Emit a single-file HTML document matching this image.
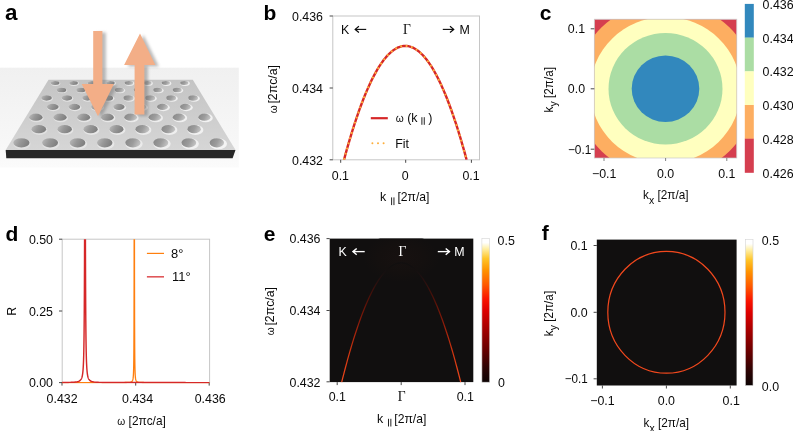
<!DOCTYPE html>
<html><head><meta charset="utf-8"><title>fig</title>
<style>
html,body{margin:0;padding:0;background:#fff;}
body{width:793px;height:431px;overflow:hidden;}
svg{display:block;will-change:transform;}
text{font-family:"Liberation Sans",sans-serif;font-size:12.4px;fill:#0a0a0a;}
.lab{font-weight:bold;font-size:21px;fill:#000;}
.ser{font-family:"Liberation Serif",serif;font-size:13.6px;}
.w{fill:#fff;}
.sub{font-size:11px;}
.om{font-size:10.2px;}
</style></head><body>
<svg width="793" height="431" viewBox="0 0 793 431">
<defs>
<linearGradient id="hot" x1="0" y1="1" x2="0" y2="0">
<stop offset="0" stop-color="#0d0303"/>
<stop offset="0.1" stop-color="#2c0404"/>
<stop offset="0.22" stop-color="#640000"/>
<stop offset="0.38" stop-color="#a80000"/>
<stop offset="0.5" stop-color="#de0000"/>
<stop offset="0.58" stop-color="#fa1400"/>
<stop offset="0.68" stop-color="#ff5a00"/>
<stop offset="0.78" stop-color="#ff9400"/>
<stop offset="0.86" stop-color="#ffc528"/>
<stop offset="0.93" stop-color="#fff0a8"/>
<stop offset="0.97" stop-color="#ffffff"/>
<stop offset="1" stop-color="#ffffff"/>
</linearGradient>
<linearGradient id="slab" x1="0" y1="0" x2="0" y2="1">
<stop offset="0" stop-color="#c4c4c4"/><stop offset="1" stop-color="#d6d6d6"/>
</linearGradient>
<linearGradient id="abg" x1="0" y1="0" x2="0" y2="1">
<stop offset="0" stop-color="#f0f0f0"/><stop offset="0.75" stop-color="#f7f7f7"/><stop offset="1" stop-color="#fbfbfb"/>
</linearGradient>
<linearGradient id="holeL" x1="0" y1="0" x2="1" y2="0.3">
<stop offset="0" stop-color="#bcbcbc"/><stop offset="0.5" stop-color="#989898"/><stop offset="1" stop-color="#808080"/>
</linearGradient>
<linearGradient id="holeR" x1="0" y1="0" x2="1" y2="0.3">
<stop offset="0" stop-color="#858585"/><stop offset="0.6" stop-color="#9c9c9c"/><stop offset="1" stop-color="#bebebe"/>
</linearGradient>
<filter id="sh" x="-30%" y="-10%" width="170%" height="125%"><feGaussianBlur stdDeviation="1.6"/></filter>
<filter id="bl" x="-30%" y="-30%" width="160%" height="160%"><feGaussianBlur stdDeviation="4"/></filter>
<linearGradient id="ecurve" gradientUnits="userSpaceOnUse" x1="0" y1="382" x2="0" y2="266">
<stop offset="0" stop-color="#f0481c"/><stop offset="0.25" stop-color="#d03510"/><stop offset="0.5" stop-color="#8e1c0a"/><stop offset="0.7" stop-color="#541108"/><stop offset="0.85" stop-color="#2c100e"/><stop offset="0.93" stop-color="#181010"/><stop offset="1" stop-color="#110f0f"/>
</linearGradient>
<radialGradient id="glow" cx="0.5" cy="0.5" r="0.5">
<stop offset="0" stop-color="#171110"/><stop offset="0.6" stop-color="#14100f"/><stop offset="1" stop-color="#110f0f"/>
</radialGradient>
</defs>

<g id="pa">
<text x="4.90" y="20.00" class="lab" style="font-size:22.4px">a</text>
<rect x="0" y="67.7" width="238.8" height="99.8" fill="url(#abg)"/>
<polygon points="48.5,79.8 192.8,79.8 235.5,149.9 5.7,150" fill="url(#slab)"/>
<polygon points="5.7,150 235.5,149.9 232.6,158.3 6.3,158.2" fill="#262626"/>
<clipPath id="ca"><polygon points="48.5,79.8 192.8,79.8 235.5,149.9 5.7,150"/></clipPath>
<g clip-path="url(#ca)">
<ellipse cx="55.5" cy="83.5" rx="4.8" ry="2.4" fill="#e3e3e3"/>
<ellipse cx="55.08" cy="83.09" rx="4.41" ry="1.99" fill="url(#holeL)"/>
<ellipse cx="74.0" cy="83.5" rx="4.8" ry="2.4" fill="#e5e5e5"/>
<ellipse cx="73.54" cy="83.09" rx="4.37" ry="1.99" fill="url(#holeL)"/>
<ellipse cx="92.5" cy="83.5" rx="4.8" ry="2.4" fill="#e7e7e7"/>
<ellipse cx="91.99" cy="83.09" rx="4.32" ry="1.99" fill="url(#holeL)"/>
<ellipse cx="111.0" cy="83.5" rx="4.8" ry="2.4" fill="#e9e9e9"/>
<ellipse cx="110.44" cy="83.09" rx="4.27" ry="1.99" fill="url(#holeL)"/>
<ellipse cx="129.5" cy="83.5" rx="4.8" ry="2.4" fill="#eaeaea"/>
<ellipse cx="128.90" cy="83.09" rx="4.23" ry="1.99" fill="url(#holeR)"/>
<ellipse cx="148.0" cy="83.5" rx="4.8" ry="2.4" fill="#ececec"/>
<ellipse cx="147.35" cy="83.09" rx="4.18" ry="1.99" fill="url(#holeR)"/>
<ellipse cx="166.5" cy="83.5" rx="4.8" ry="2.4" fill="#eeeeee"/>
<ellipse cx="165.80" cy="83.09" rx="4.13" ry="1.99" fill="url(#holeR)"/>
<ellipse cx="185.0" cy="83.5" rx="4.8" ry="2.4" fill="#f0f0f0"/>
<ellipse cx="184.26" cy="83.09" rx="4.09" ry="1.99" fill="url(#holeR)"/>
<ellipse cx="62.0" cy="90.5" rx="5.2" ry="2.8" fill="#e3e3e3"/>
<ellipse cx="61.53" cy="90.03" rx="4.78" ry="2.29" fill="url(#holeL)"/>
<ellipse cx="81.5" cy="90.5" rx="5.2" ry="2.8" fill="#e5e5e5"/>
<ellipse cx="80.98" cy="90.03" rx="4.73" ry="2.29" fill="url(#holeL)"/>
<ellipse cx="101.0" cy="90.5" rx="5.2" ry="2.8" fill="#e8e8e8"/>
<ellipse cx="100.42" cy="90.03" rx="4.67" ry="2.29" fill="url(#holeL)"/>
<ellipse cx="120.0" cy="90.5" rx="5.2" ry="2.8" fill="#eaeaea"/>
<ellipse cx="119.37" cy="90.03" rx="4.62" ry="2.29" fill="url(#holeR)"/>
<ellipse cx="139.0" cy="90.5" rx="5.2" ry="2.8" fill="#ebebeb"/>
<ellipse cx="138.32" cy="90.03" rx="4.57" ry="2.29" fill="url(#holeR)"/>
<ellipse cx="158.5" cy="90.5" rx="5.2" ry="2.8" fill="#eeeeee"/>
<ellipse cx="157.76" cy="90.03" rx="4.51" ry="2.29" fill="url(#holeR)"/>
<ellipse cx="178.0" cy="90.5" rx="5.2" ry="2.8" fill="#f0f0f0"/>
<ellipse cx="177.21" cy="90.03" rx="4.46" ry="2.29" fill="url(#holeR)"/>
<ellipse cx="47.0" cy="98.5" rx="5.8" ry="3.2" fill="#e2e2e2"/>
<ellipse cx="46.53" cy="97.95" rx="5.30" ry="2.69" fill="url(#holeL)"/>
<ellipse cx="67.5" cy="98.5" rx="5.8" ry="3.2" fill="#e4e4e4"/>
<ellipse cx="66.97" cy="97.95" rx="5.24" ry="2.69" fill="url(#holeL)"/>
<ellipse cx="88.0" cy="98.5" rx="5.8" ry="3.2" fill="#e6e6e6"/>
<ellipse cx="87.40" cy="97.95" rx="5.18" ry="2.69" fill="url(#holeL)"/>
<ellipse cx="108.6" cy="98.5" rx="5.8" ry="3.2" fill="#e8e8e8"/>
<ellipse cx="107.94" cy="97.95" rx="5.12" ry="2.69" fill="url(#holeL)"/>
<ellipse cx="129.2" cy="98.5" rx="5.8" ry="3.2" fill="#eaeaea"/>
<ellipse cx="128.48" cy="97.95" rx="5.05" ry="2.69" fill="url(#holeR)"/>
<ellipse cx="151.0" cy="98.5" rx="5.8" ry="3.2" fill="#ededed"/>
<ellipse cx="150.21" cy="97.95" rx="4.99" ry="2.69" fill="url(#holeR)"/>
<ellipse cx="172.0" cy="98.5" rx="5.8" ry="3.2" fill="#efefef"/>
<ellipse cx="171.15" cy="97.95" rx="4.93" ry="2.69" fill="url(#holeR)"/>
<ellipse cx="194.0" cy="98.5" rx="5.8" ry="3.2" fill="#f1f1f1"/>
<ellipse cx="193.08" cy="97.95" rx="4.86" ry="2.69" fill="url(#holeR)"/>
<ellipse cx="53.3" cy="107.5" rx="6.4" ry="3.7" fill="#e3e3e3"/>
<ellipse cx="52.75" cy="106.87" rx="5.86" ry="3.09" fill="url(#holeL)"/>
<ellipse cx="75.0" cy="107.5" rx="6.4" ry="3.7" fill="#e5e5e5"/>
<ellipse cx="74.38" cy="106.87" rx="5.79" ry="3.09" fill="url(#holeL)"/>
<ellipse cx="97.5" cy="107.5" rx="6.4" ry="3.7" fill="#e7e7e7"/>
<ellipse cx="96.81" cy="106.87" rx="5.71" ry="3.09" fill="url(#holeL)"/>
<ellipse cx="119.7" cy="107.5" rx="6.4" ry="3.7" fill="#e9e9e9"/>
<ellipse cx="118.93" cy="106.87" rx="5.64" ry="3.09" fill="url(#holeL)"/>
<ellipse cx="141.5" cy="107.5" rx="6.4" ry="3.7" fill="#ececec"/>
<ellipse cx="140.66" cy="106.87" rx="5.56" ry="3.09" fill="url(#holeR)"/>
<ellipse cx="163.4" cy="107.5" rx="6.4" ry="3.7" fill="#eeeeee"/>
<ellipse cx="162.49" cy="106.87" rx="5.49" ry="3.09" fill="url(#holeR)"/>
<ellipse cx="186.4" cy="107.5" rx="6.4" ry="3.7" fill="#f0f0f0"/>
<ellipse cx="185.41" cy="106.87" rx="5.41" ry="3.09" fill="url(#holeR)"/>
<ellipse cx="36.4" cy="117.9" rx="7.2" ry="4.3" fill="#e1e1e1"/>
<ellipse cx="35.85" cy="117.17" rx="6.69" ry="3.59" fill="url(#holeL)"/>
<ellipse cx="60.7" cy="117.9" rx="7.2" ry="4.3" fill="#e3e3e3"/>
<ellipse cx="60.05" cy="117.17" rx="6.60" ry="3.59" fill="url(#holeL)"/>
<ellipse cx="84.4" cy="117.9" rx="7.2" ry="4.3" fill="#e6e6e6"/>
<ellipse cx="83.67" cy="117.17" rx="6.51" ry="3.59" fill="url(#holeL)"/>
<ellipse cx="108.2" cy="117.9" rx="7.2" ry="4.3" fill="#e8e8e8"/>
<ellipse cx="107.38" cy="117.17" rx="6.42" ry="3.59" fill="url(#holeL)"/>
<ellipse cx="131.5" cy="117.9" rx="7.2" ry="4.3" fill="#ebebeb"/>
<ellipse cx="130.59" cy="117.17" rx="6.33" ry="3.59" fill="url(#holeR)"/>
<ellipse cx="155.8" cy="117.9" rx="7.2" ry="4.3" fill="#ededed"/>
<ellipse cx="154.80" cy="117.17" rx="6.24" ry="3.59" fill="url(#holeR)"/>
<ellipse cx="180.0" cy="117.9" rx="7.2" ry="4.3" fill="#f0f0f0"/>
<ellipse cx="178.90" cy="117.17" rx="6.15" ry="3.59" fill="url(#holeR)"/>
<ellipse cx="205.6" cy="117.9" rx="7.2" ry="4.3" fill="#f2f2f2"/>
<ellipse cx="204.41" cy="117.17" rx="6.05" ry="3.59" fill="url(#holeR)"/>
<ellipse cx="39.4" cy="130.0" rx="8.0" ry="4.9" fill="#e1e1e1"/>
<ellipse cx="38.78" cy="129.16" rx="7.36" ry="4.08" fill="url(#holeL)"/>
<ellipse cx="65.4" cy="130.0" rx="8.0" ry="4.9" fill="#e4e4e4"/>
<ellipse cx="64.67" cy="129.16" rx="7.25" ry="4.08" fill="url(#holeL)"/>
<ellipse cx="91.4" cy="130.0" rx="8.0" ry="4.9" fill="#e7e7e7"/>
<ellipse cx="90.56" cy="129.16" rx="7.14" ry="4.08" fill="url(#holeL)"/>
<ellipse cx="117.4" cy="130.0" rx="8.0" ry="4.9" fill="#e9e9e9"/>
<ellipse cx="116.45" cy="129.16" rx="7.03" ry="4.08" fill="url(#holeL)"/>
<ellipse cx="143.4" cy="130.0" rx="8.0" ry="4.9" fill="#ececec"/>
<ellipse cx="142.34" cy="129.16" rx="6.92" ry="4.08" fill="url(#holeR)"/>
<ellipse cx="169.4" cy="130.0" rx="8.0" ry="4.9" fill="#efefef"/>
<ellipse cx="168.24" cy="129.16" rx="6.82" ry="4.08" fill="url(#holeR)"/>
<ellipse cx="195.4" cy="130.0" rx="8.0" ry="4.9" fill="#f1f1f1"/>
<ellipse cx="194.13" cy="129.16" rx="6.71" ry="4.08" fill="url(#holeR)"/>
<ellipse cx="22.0" cy="143.8" rx="8.7" ry="5.5" fill="#dfdfdf"/>
<ellipse cx="21.40" cy="142.86" rx="8.11" ry="4.58" fill="url(#holeL)"/>
<ellipse cx="50.8" cy="143.8" rx="8.7" ry="5.5" fill="#e2e2e2"/>
<ellipse cx="50.07" cy="142.86" rx="7.98" ry="4.58" fill="url(#holeL)"/>
<ellipse cx="78.4" cy="143.8" rx="8.7" ry="5.5" fill="#e5e5e5"/>
<ellipse cx="77.54" cy="142.86" rx="7.86" ry="4.58" fill="url(#holeL)"/>
<ellipse cx="105.7" cy="143.8" rx="8.7" ry="5.5" fill="#e8e8e8"/>
<ellipse cx="104.72" cy="142.86" rx="7.73" ry="4.58" fill="url(#holeL)"/>
<ellipse cx="134.0" cy="143.8" rx="8.7" ry="5.5" fill="#ebebeb"/>
<ellipse cx="132.89" cy="142.86" rx="7.61" ry="4.58" fill="url(#holeR)"/>
<ellipse cx="162.0" cy="143.8" rx="8.7" ry="5.5" fill="#eeeeee"/>
<ellipse cx="160.76" cy="142.86" rx="7.48" ry="4.58" fill="url(#holeR)"/>
<ellipse cx="190.2" cy="143.8" rx="8.7" ry="5.5" fill="#f1f1f1"/>
<ellipse cx="188.84" cy="142.86" rx="7.35" ry="4.58" fill="url(#holeR)"/>
<ellipse cx="218.3" cy="143.8" rx="8.7" ry="5.5" fill="#f4f4f4"/>
<ellipse cx="216.81" cy="142.86" rx="7.22" ry="4.58" fill="url(#holeR)"/>
</g>
<g filter="url(#sh)" opacity="0.5" transform="translate(3.5,1.5)"><polygon points="93.2,31 102.4,31 102.4,83.9 113.9,83.9 98,116.3 81.7,83.9 93.2,83.9" fill="#777"/><polygon points="140,33.4 155.4,65.1 144.4,65.1 144.4,114.6 134.6,114.6 134.6,65.1 124.1,65.1" fill="#777"/></g>
<polygon points="93.2,31 102.4,31 102.4,83.9 113.9,83.9 98,116.3 81.7,83.9 93.2,83.9" fill="#f3ae87"/>
<polygon points="140,33.4 155.4,65.1 144.4,65.1 144.4,114.6 134.6,114.6 134.6,65.1 124.1,65.1" fill="#f3ae87"/>
</g>
<g id="pb">
<text x="263.60" y="20.00" class="lab">b</text>
<rect x="332.8" y="16.0" width="146.7" height="143.8" fill="none" stroke="#c6c6c6" stroke-width="1"/>
<line x1="329.6" y1="16.0" x2="332.8" y2="16.0" stroke="#333" stroke-width="0.9"/>
<line x1="329.6" y1="88.0" x2="332.8" y2="88.0" stroke="#333" stroke-width="0.9"/>
<line x1="329.6" y1="159.8" x2="332.8" y2="159.8" stroke="#333" stroke-width="0.9"/>
<line x1="340.7" y1="159.8" x2="340.7" y2="162.8" stroke="#333" stroke-width="0.9"/>
<line x1="405.7" y1="159.8" x2="405.7" y2="162.8" stroke="#333" stroke-width="0.9"/>
<line x1="471.4" y1="159.8" x2="471.4" y2="162.8" stroke="#333" stroke-width="0.9"/>
<text x="323.00" y="20.80" text-anchor="end">0.436</text>
<text x="323.00" y="92.80" text-anchor="end">0.434</text>
<text x="323.00" y="164.60" text-anchor="end">0.432</text>
<text x="340.40" y="180.00" text-anchor="middle">0.1</text>
<text x="405.20" y="180.00" text-anchor="middle">0</text>
<text x="471.10" y="180.00" text-anchor="middle">0.1</text>
<g transform="translate(277.40 113.20) rotate(-90)">
<text x="0.00" y="0.00" class="om">ω</text>
<text x="9.60" y="0.00" textLength="38.60" lengthAdjust="spacingAndGlyphs">[2πc/a]</text>
</g>
<text x="380.10" y="201.40">k</text>
<line x1="391.60" y1="197.40" x2="391.60" y2="205.10" stroke="#0a0a0a" stroke-width="0.9"/>
<line x1="393.95" y1="197.40" x2="393.95" y2="205.10" stroke="#0a0a0a" stroke-width="0.9"/>
<text x="397.40" y="201.40" textLength="32.00" lengthAdjust="spacingAndGlyphs">[2π/a]</text>
<clipPath id="cb"><rect x="332.8" y="16.0" width="146.7" height="143.8"/></clipPath>
<g clip-path="url(#cb)"><polyline points="344.00,159.80 345.53,154.18 347.06,148.69 348.60,143.36 350.13,138.16 351.66,133.10 353.19,128.19 354.73,123.42 356.26,118.80 357.79,114.31 359.32,109.97 360.86,105.77 362.39,101.71 363.92,97.80 365.45,94.02 366.99,90.39 368.52,86.90 370.05,83.56 371.58,80.35 373.12,77.29 374.65,74.38 376.18,71.60 377.71,68.96 379.25,66.47 380.78,64.12 382.31,61.92 383.85,59.85 385.38,57.93 386.91,56.15 388.44,54.51 389.98,53.02 391.51,51.67 393.04,50.46 394.57,49.39 396.11,48.46 397.64,47.68 399.17,47.04 400.70,46.54 402.24,46.18 403.77,45.97 405.30,45.90 406.83,45.97 408.37,46.18 409.90,46.54 411.43,47.04 412.96,47.68 414.50,48.46 416.03,49.39 417.56,50.46 419.09,51.67 420.62,53.02 422.16,54.51 423.69,56.15 425.22,57.93 426.75,59.85 428.29,61.92 429.82,64.12 431.35,66.47 432.88,68.96 434.42,71.60 435.95,74.37 437.48,77.29 439.01,80.35 440.55,83.56 442.08,86.90 443.61,90.39 445.14,94.02 446.68,97.80 448.21,101.71 449.74,105.77 451.27,109.97 452.81,114.31 454.34,118.80 455.87,123.42 457.40,128.19 458.94,133.10 460.47,138.16 462.00,143.36 463.53,148.69 465.07,154.18 466.60,159.80" fill="none" stroke="#d62728" stroke-width="2.4"/>
<polyline points="344.00,159.80 345.53,154.18 347.06,148.69 348.60,143.36 350.13,138.16 351.66,133.10 353.19,128.19 354.73,123.42 356.26,118.80 357.79,114.31 359.32,109.97 360.86,105.77 362.39,101.71 363.92,97.80 365.45,94.02 366.99,90.39 368.52,86.90 370.05,83.56 371.58,80.35 373.12,77.29 374.65,74.38 376.18,71.60 377.71,68.96 379.25,66.47 380.78,64.12 382.31,61.92 383.85,59.85 385.38,57.93 386.91,56.15 388.44,54.51 389.98,53.02 391.51,51.67 393.04,50.46 394.57,49.39 396.11,48.46 397.64,47.68 399.17,47.04 400.70,46.54 402.24,46.18 403.77,45.97 405.30,45.90 406.83,45.97 408.37,46.18 409.90,46.54 411.43,47.04 412.96,47.68 414.50,48.46 416.03,49.39 417.56,50.46 419.09,51.67 420.62,53.02 422.16,54.51 423.69,56.15 425.22,57.93 426.75,59.85 428.29,61.92 429.82,64.12 431.35,66.47 432.88,68.96 434.42,71.60 435.95,74.37 437.48,77.29 439.01,80.35 440.55,83.56 442.08,86.90 443.61,90.39 445.14,94.02 446.68,97.80 448.21,101.71 449.74,105.77 451.27,109.97 452.81,114.31 454.34,118.80 455.87,123.42 457.40,128.19 458.94,133.10 460.47,138.16 462.00,143.36 463.53,148.69 465.07,154.18 466.60,159.80" fill="none" stroke="#fdae3c" stroke-width="2.1" stroke-dasharray="1.8 3.6"/></g>
<text x="341.00" y="33.80">K</text>
<line x1="355.00" y1="29.40" x2="366.20" y2="29.40" stroke="#0a0a0a" stroke-width="1.12"/>
<polyline points="358.90,26.30 355.20,29.40 358.90,32.50" fill="none" stroke="#0a0a0a" stroke-width="1.22" stroke-linejoin="miter"/>
<text x="402.90" y="33.80" class="ser">Γ</text>
<line x1="442.80" y1="29.40" x2="453.90" y2="29.40" stroke="#0a0a0a" stroke-width="1.12"/>
<polyline points="450.00,26.30 453.70,29.40 450.00,32.50" fill="none" stroke="#0a0a0a" stroke-width="1.22" stroke-linejoin="miter"/>
<text x="459.40" y="33.80">M</text>
<line x1="370.8" y1="118.2" x2="387.8" y2="118.2" stroke="#d62728" stroke-width="2.2"/>
<text x="395.70" y="122.00" class="om">ω</text>
<text x="407.20" y="122.00">(k</text>
<line x1="421.90" y1="117.20" x2="421.90" y2="124.80" stroke="#0a0a0a" stroke-width="0.9"/>
<line x1="424.25" y1="117.20" x2="424.25" y2="124.80" stroke="#0a0a0a" stroke-width="0.9"/>
<text x="428.30" y="122.00">)</text>
<line x1="372.4" y1="143.3" x2="385" y2="143.3" stroke="#fdae3c" stroke-width="2" stroke-dasharray="0 5.6" stroke-linecap="round"/>
<text x="395.30" y="148.40">Fit</text>
</g>
<g id="pc">
<text x="539.80" y="19.80" class="lab">c</text>
<clipPath id="cc"><rect x="594.3" y="19.2" width="142.5" height="138.8"/></clipPath>
<g clip-path="url(#cc)">
<rect x="594.3" y="19.2" width="142.5" height="138.8" fill="#d53e4f"/>
<ellipse cx="665.50" cy="89.25" rx="90.30" ry="87.60" fill="#fdae61"/>
<ellipse cx="665.50" cy="90.15" rx="75.20" ry="73.20" fill="#ffffbf"/>
<ellipse cx="665.50" cy="88.75" rx="57.00" ry="55.85" fill="#abdda4"/>
<ellipse cx="665.50" cy="88.75" rx="33.80" ry="33.30" fill="#3288bd"/>
</g>
<rect x="594.3" y="19.2" width="142.5" height="138.8" fill="none" stroke="#c8c8c8" stroke-width="0.7"/>
<line x1="590.7" y1="28.8" x2="594.3" y2="28.8" stroke="#333" stroke-width="0.9"/>
<line x1="590.7" y1="88.8" x2="594.3" y2="88.8" stroke="#333" stroke-width="0.9"/>
<line x1="590.7" y1="149.2" x2="594.3" y2="149.2" stroke="#333" stroke-width="0.9"/>
<line x1="604.0" y1="158.0" x2="604.0" y2="161.0" stroke="#777" stroke-width="0.9"/>
<line x1="665.6" y1="158.0" x2="665.6" y2="161.0" stroke="#777" stroke-width="0.9"/>
<line x1="726.8" y1="158.0" x2="726.8" y2="161.0" stroke="#777" stroke-width="0.9"/>
<text x="585.10" y="33.30" text-anchor="end">0.1</text>
<text x="585.10" y="93.30" text-anchor="end">0.0</text>
<text x="591.30" y="153.90" text-anchor="end" textLength="23.40" lengthAdjust="spacingAndGlyphs">−0.1</text>
<text x="604.20" y="177.50" text-anchor="middle">−0.1</text>
<text x="665.60" y="177.50" text-anchor="middle">0.0</text>
<text x="726.80" y="177.50" text-anchor="middle">0.1</text>
<text x="552.60" y="112.40" textLength="45.40" lengthAdjust="spacingAndGlyphs" transform="rotate(-90 552.60 112.40)">k<tspan class="sub" dy="4.6">y</tspan><tspan dy="-4.6"> [2π/a]</tspan></text>
<text x="643.10" y="198.90" textLength="45.40" lengthAdjust="spacingAndGlyphs">k<tspan class="sub" dy="4.6">x</tspan><tspan dy="-4.6"> [2π/a]</tspan></text>
<rect x="744.8" y="3.9" width="9.0" height="33.9" fill="#3288bd"/>
<rect x="744.8" y="37.6" width="9.0" height="33.9" fill="#abdda4"/>
<rect x="744.8" y="71.3" width="9.0" height="33.9" fill="#ffffbf"/>
<rect x="744.8" y="105.0" width="9.0" height="33.9" fill="#fdae61"/>
<rect x="744.8" y="138.7" width="9.0" height="34.1" fill="#d53e4f"/>
<text x="762.60" y="9.00">0.436</text>
<text x="762.60" y="42.70">0.434</text>
<text x="762.60" y="76.40">0.432</text>
<text x="762.60" y="110.10">0.430</text>
<text x="762.60" y="143.80">0.428</text>
<text x="762.60" y="177.70">0.426</text>
</g>
<g id="pd">
<text x="5.60" y="241.30" class="lab">d</text>
<rect x="62.2" y="239.2" width="147.4" height="143.4" fill="none" stroke="#c6c6c6" stroke-width="1"/>
<line x1="59.0" y1="239.2" x2="62.2" y2="239.2" stroke="#333" stroke-width="0.9"/>
<line x1="59.0" y1="311.0" x2="62.2" y2="311.0" stroke="#333" stroke-width="0.9"/>
<line x1="59.0" y1="382.6" x2="62.2" y2="382.6" stroke="#333" stroke-width="0.9"/>
<line x1="62.0" y1="382.6" x2="62.0" y2="385.6" stroke="#333" stroke-width="0.9"/>
<line x1="135.7" y1="382.6" x2="135.7" y2="385.6" stroke="#333" stroke-width="0.9"/>
<line x1="209.2" y1="382.6" x2="209.2" y2="385.6" stroke="#333" stroke-width="0.9"/>
<text x="53.00" y="243.90" text-anchor="end">0.50</text>
<text x="53.00" y="315.70" text-anchor="end">0.25</text>
<text x="53.00" y="387.30" text-anchor="end">0.00</text>
<text x="62.10" y="402.70" text-anchor="middle">0.432</text>
<text x="137.60" y="402.70" text-anchor="middle">0.434</text>
<text x="210.20" y="402.70" text-anchor="middle">0.436</text>
<text x="16.10" y="311.30" text-anchor="middle" transform="rotate(-90 16.10 311.30)">R</text>
<text x="117.30" y="424.80" class="om">ω</text>
<text x="128.60" y="424.80" textLength="37.20" lengthAdjust="spacingAndGlyphs">[2πc/a]</text>
<clipPath id="cd"><rect x="61.2" y="239.2" width="149.4" height="144.4"/></clipPath>
<g clip-path="url(#cd)">
<polyline points="62.20,382.60 63.20,382.60 64.20,382.60 65.20,382.60 66.20,382.60 67.20,382.60 68.20,382.60 69.20,382.60 70.20,382.60 71.20,382.60 72.20,382.60 73.20,382.60 74.20,382.60 75.20,382.60 76.20,382.60 77.20,382.60 78.20,382.60 79.20,382.60 80.20,382.60 81.20,382.60 82.20,382.60 83.20,382.60 84.20,382.60 85.20,382.60 86.20,382.60 87.20,382.60 88.20,382.60 89.20,382.60 90.20,382.60 91.20,382.60 92.20,382.60 93.20,382.60 94.20,382.60 95.20,382.60 96.20,382.60 97.20,382.60 98.20,382.60 99.20,382.59 100.20,382.59 101.20,382.59 102.20,382.59 103.20,382.59 104.20,382.59 105.20,382.59 106.20,382.59 107.20,382.59 108.20,382.59 109.20,382.59 110.20,382.59 111.20,382.59 112.20,382.59 113.20,382.59 114.20,382.58 115.20,382.58 116.20,382.58 117.20,382.58 118.20,382.58 119.20,382.57 120.20,382.57 121.20,382.56 122.20,382.56 123.20,382.55 124.20,382.54 125.20,382.52 126.20,382.50 127.20,382.47 128.20,382.43 129.20,382.35 130.20,382.22 131.20,381.93 131.30,381.88 131.40,381.83 131.50,381.78 131.60,381.72 131.70,381.65 131.80,381.57 131.90,381.48 132.00,381.39 132.10,381.27 132.20,381.14 132.30,381.00 132.40,380.82 132.50,380.62 132.60,380.38 132.70,380.10 132.80,379.76 132.90,379.35 133.00,378.83 133.10,378.19 133.20,377.36 133.30,376.29 133.40,374.85 133.50,372.86 133.60,370.01 133.70,365.73 133.80,358.92 133.90,347.24 134.00,325.24 134.10,279.35 134.20,184.05 134.30,95.80 134.40,184.05 134.50,279.35 134.60,325.24 134.70,347.24 134.80,358.92 134.90,365.73 135.00,370.01 135.10,372.86 135.20,374.85 135.30,376.29 135.40,377.36 135.50,378.19 135.60,378.83 135.70,379.35 135.80,379.76 135.90,380.10 136.00,380.38 136.10,380.62 136.20,380.82 136.30,381.00 136.40,381.14 136.50,381.27 136.60,381.39 136.70,381.48 136.80,381.57 136.90,381.65 137.00,381.72 137.10,381.78 137.20,381.83 137.30,381.88 137.40,381.93 137.50,381.97 137.60,382.01 137.70,382.04 137.80,382.07 137.90,382.10 138.00,382.13 138.10,382.15 138.20,382.18 138.30,382.20 138.40,382.22 139.40,382.35 140.40,382.43 141.40,382.47 142.40,382.50 143.40,382.52 144.40,382.54 145.40,382.55 146.40,382.56 147.40,382.56 148.40,382.57 149.40,382.57 150.40,382.58 151.40,382.58 152.40,382.58 153.40,382.58 154.40,382.58 155.40,382.59 156.40,382.59 157.40,382.59 158.40,382.59 159.40,382.59 160.40,382.59 161.40,382.59 162.40,382.59 163.40,382.59 164.40,382.59 165.40,382.59 166.40,382.59 167.40,382.59 168.40,382.59 169.40,382.59 170.40,382.60 171.40,382.60 172.40,382.60 173.40,382.60 174.40,382.60 175.40,382.60 176.40,382.60 177.40,382.60 178.40,382.60 179.40,382.60 180.40,382.60 181.40,382.60 182.40,382.60 183.40,382.60 184.40,382.60 185.40,382.60 186.40,382.60 187.40,382.60 188.40,382.60 189.40,382.60 190.40,382.60 191.40,382.60 192.40,382.60 193.40,382.60 194.40,382.60 195.40,382.60 196.40,382.60 197.40,382.60 198.40,382.60 199.40,382.60 200.40,382.60 201.40,382.60 202.40,382.60 203.40,382.60 204.40,382.60 205.40,382.60 206.40,382.60 207.40,382.60 208.40,382.60 209.40,382.60" fill="none" stroke="#ff7f0e" stroke-width="1.3" stroke-linejoin="round"/>
<polyline points="62.20,382.50 63.20,382.49 64.20,382.48 65.20,382.47 66.20,382.46 67.20,382.44 68.20,382.42 69.20,382.40 70.20,382.37 71.20,382.33 72.20,382.29 73.20,382.24 74.20,382.17 75.20,382.07 76.20,381.95 77.20,381.77 78.20,381.51 79.20,381.10 80.20,380.42 81.20,379.14 81.30,378.95 81.40,378.75 81.50,378.53 81.60,378.29 81.70,378.03 81.80,377.74 81.90,377.43 82.00,377.09 82.10,376.71 82.20,376.29 82.30,375.82 82.40,375.31 82.50,374.73 82.60,374.08 82.70,373.35 82.80,372.51 82.90,371.57 83.00,370.49 83.10,369.24 83.20,367.79 83.30,366.10 83.40,364.11 83.50,361.75 83.60,358.92 83.70,355.49 83.80,351.30 83.90,346.11 84.00,339.59 84.10,331.31 84.20,320.63 84.30,306.68 84.40,288.28 84.50,263.95 84.60,232.21 84.70,192.69 84.80,148.81 84.90,111.19 85.00,95.80 85.10,111.19 85.20,148.81 85.30,192.69 85.40,232.21 85.50,263.95 85.60,288.28 85.70,306.68 85.80,320.63 85.90,331.31 86.00,339.59 86.10,346.11 86.20,351.30 86.30,355.49 86.40,358.92 86.50,361.75 86.60,364.11 86.70,366.10 86.80,367.79 86.90,369.24 87.00,370.49 87.10,371.57 87.20,372.51 87.30,373.35 87.40,374.08 87.50,374.73 87.60,375.31 87.70,375.82 87.80,376.29 87.90,376.71 88.00,377.09 88.10,377.43 88.20,377.74 88.30,378.03 88.40,378.29 88.50,378.53 88.60,378.75 88.70,378.95 88.80,379.14 88.90,379.31 89.00,379.47 89.10,379.62 90.10,380.67 91.10,381.25 92.10,381.60 93.10,381.83 94.10,381.99 95.10,382.10 96.10,382.19 97.10,382.25 98.10,382.31 99.10,382.35 100.10,382.38 101.10,382.40 102.10,382.43 103.10,382.45 104.10,382.46 105.10,382.47 106.10,382.49 107.10,382.50 108.10,382.51 109.10,382.51 110.10,382.52 111.10,382.53 112.10,382.53 113.10,382.54 114.10,382.54 115.10,382.54 116.10,382.55 117.10,382.55 118.10,382.55 119.10,382.56 120.10,382.56 121.10,382.56 122.10,382.56 123.10,382.57 124.10,382.57 125.10,382.57 126.10,382.57 127.10,382.57 128.10,382.57 129.10,382.57 130.10,382.58 131.10,382.58 132.10,382.58 133.10,382.58 134.10,382.58 135.10,382.58 136.10,382.58 137.10,382.58 138.10,382.58 139.10,382.58 140.10,382.58 141.10,382.58 142.10,382.58 143.10,382.59 144.10,382.59 145.10,382.59 146.10,382.59 147.10,382.59 148.10,382.59 149.10,382.59 150.10,382.59 151.10,382.59 152.10,382.59 153.10,382.59 154.10,382.59 155.10,382.59 156.10,382.59 157.10,382.59 158.10,382.59 159.10,382.59 160.10,382.59 161.10,382.59 162.10,382.59 163.10,382.59 164.10,382.59 165.10,382.59 166.10,382.59 167.10,382.59 168.10,382.59 169.10,382.59 170.10,382.59 171.10,382.59 172.10,382.59 173.10,382.59 174.10,382.59 175.10,382.59 176.10,382.59 177.10,382.59 178.10,382.59 179.10,382.59 180.10,382.59 181.10,382.59 182.10,382.59 183.10,382.59 184.10,382.59 185.10,382.59 186.10,382.60 187.10,382.60 188.10,382.60 189.10,382.60 190.10,382.60 191.10,382.60 192.10,382.60 193.10,382.60 194.10,382.60 195.10,382.60 196.10,382.60 197.10,382.60 198.10,382.60 199.10,382.60 200.10,382.60 201.10,382.60 202.10,382.60 203.10,382.60 204.10,382.60 205.10,382.60 206.10,382.60 207.10,382.60 208.10,382.60 209.10,382.60" fill="none" stroke="#d62728" stroke-width="1.45" stroke-linejoin="round"/>
</g>
<line x1="146.9" y1="253.4" x2="164" y2="253.4" stroke="#ff7f0e" stroke-width="1.2"/>
<text x="171.00" y="258.30" style="font-size:12.9px">8°</text>
<line x1="146.9" y1="276.8" x2="164" y2="276.8" stroke="#e0575a" stroke-width="1.6"/>
<text x="172.00" y="280.80" style="font-size:12.9px">11°</text>
</g>
<g id="pe">
<text x="263.80" y="240.50" class="lab">e</text>
<rect x="329.7" y="238.6" width="143.6" height="143.5" fill="#110f0f"/>
<clipPath id="ce"><rect x="329.7" y="238.6" width="143.6" height="143.5"/></clipPath>
<g clip-path="url(#ce)"><ellipse cx="401.2" cy="258" rx="38" ry="24" fill="url(#glow)"/></g>
<line x1="326.5" y1="238.6" x2="329.7" y2="238.6" stroke="#333" stroke-width="0.9"/>
<line x1="326.5" y1="310.5" x2="329.7" y2="310.5" stroke="#333" stroke-width="0.9"/>
<line x1="326.5" y1="381.8" x2="329.7" y2="381.8" stroke="#333" stroke-width="0.9"/>
<line x1="337.2" y1="382.1" x2="337.2" y2="385.1" stroke="#333" stroke-width="0.9"/>
<line x1="401.2" y1="382.1" x2="401.2" y2="385.1" stroke="#333" stroke-width="0.9"/>
<line x1="465.0" y1="382.1" x2="465.0" y2="385.1" stroke="#333" stroke-width="0.9"/>
<text x="320.50" y="243.30" text-anchor="end">0.436</text>
<text x="320.50" y="315.20" text-anchor="end">0.434</text>
<text x="320.50" y="386.50" text-anchor="end">0.432</text>
<text x="337.30" y="400.80" text-anchor="middle">0.1</text>
<text x="465.30" y="400.80" text-anchor="middle">0.1</text>
<text x="401.60" y="400.90" text-anchor="middle" class="ser">Γ</text>
<g transform="translate(274.00 335.20) rotate(-90)">
<text x="0.00" y="0.00" class="om">ω</text>
<text x="9.60" y="0.00" textLength="38.60" lengthAdjust="spacingAndGlyphs">[2πc/a]</text>
</g>
<text x="377.00" y="422.80">k</text>
<line x1="388.50" y1="418.80" x2="388.50" y2="426.50" stroke="#0a0a0a" stroke-width="0.9"/>
<line x1="390.85" y1="418.80" x2="390.85" y2="426.50" stroke="#0a0a0a" stroke-width="0.9"/>
<text x="394.30" y="422.80" textLength="32.00" lengthAdjust="spacingAndGlyphs">[2π/a]</text>
<polyline points="341.70,382.10 342.69,378.16 343.68,374.29 344.68,370.48 345.67,366.74 346.66,363.06 347.65,359.45 348.64,355.91 349.63,352.43 350.62,349.02 351.62,345.68 352.61,342.40 353.60,339.19 354.59,336.04 355.58,332.96 356.57,329.95 357.57,327.00 358.56,324.12 359.55,321.31 360.54,318.56 361.53,315.88 362.52,313.26 363.52,310.71 364.51,308.23 365.50,305.81 366.49,303.46 367.48,301.18 368.47,298.96 369.47,296.81 370.46,294.72 371.45,292.70 372.44,290.75 373.43,288.86 374.43,287.04 375.42,285.28 376.41,283.59 377.40,281.97 378.39,280.42 379.38,278.93 380.38,277.50 381.37,276.14 382.36,274.85 383.35,273.63 384.34,272.47 385.33,271.38 386.32,270.35 387.32,269.39 388.31,268.50 389.30,267.67 390.29,266.91 391.28,266.21 392.27,265.58 393.27,265.02 394.26,264.52 395.25,264.09 396.24,263.73 397.23,263.43 398.22,263.20 399.22,263.03 400.21,262.93 401.20,262.90" fill="none" stroke="url(#ecurve)" stroke-width="1.25"/>
<polyline points="460.70,382.10 459.71,378.16 458.72,374.29 457.72,370.48 456.73,366.74 455.74,363.06 454.75,359.45 453.76,355.91 452.77,352.43 451.77,349.02 450.78,345.68 449.79,342.40 448.80,339.19 447.81,336.04 446.82,332.96 445.82,329.95 444.83,327.00 443.84,324.12 442.85,321.31 441.86,318.56 440.87,315.88 439.88,313.26 438.88,310.71 437.89,308.23 436.90,305.81 435.91,303.46 434.92,301.18 433.93,298.96 432.93,296.81 431.94,294.72 430.95,292.70 429.96,290.75 428.97,288.86 427.97,287.04 426.98,285.28 425.99,283.59 425.00,281.97 424.01,280.42 423.02,278.93 422.02,277.50 421.03,276.14 420.04,274.85 419.05,273.63 418.06,272.47 417.07,271.38 416.07,270.35 415.08,269.39 414.09,268.50 413.10,267.67 412.11,266.91 411.12,266.21 410.12,265.58 409.13,265.02 408.14,264.52 407.15,264.09 406.16,263.73 405.17,263.43 404.18,263.20 403.18,263.03 402.19,262.93 401.20,262.90" fill="none" stroke="url(#ecurve)" stroke-width="1.25"/>
<text x="338.40" y="255.70" class="w">K</text>
<line x1="352.80" y1="251.60" x2="364.70" y2="251.60" stroke="#fff" stroke-width="1.35"/>
<polyline points="356.70,248.50 353.00,251.60 356.70,254.70" fill="none" stroke="#fff" stroke-width="1.45" stroke-linejoin="miter"/>
<text x="402.40" y="255.70" text-anchor="middle" class="ser w">Γ</text>
<line x1="437.80" y1="251.60" x2="449.60" y2="251.60" stroke="#fff" stroke-width="1.35"/>
<polyline points="445.70,248.50 449.40,251.60 445.70,254.70" fill="none" stroke="#fff" stroke-width="1.45" stroke-linejoin="miter"/>
<text x="454.20" y="255.70" class="w">M</text>
<rect x="481.9" y="238.4" width="7.8" height="143.8" fill="url(#hot)" stroke="#d4d4d4" stroke-width="0.6"/>
<text x="497.60" y="244.90">0.5</text>
<text x="498.00" y="387.20">0</text>
</g>
<g id="pf">
<text x="541.80" y="240.40" class="lab">f</text>
<rect x="596.8" y="239.6" width="139.8" height="145.9" fill="#110f0f"/>
<line x1="593.6" y1="245.5" x2="596.8" y2="245.5" stroke="#333" stroke-width="0.9"/>
<line x1="593.6" y1="312.3" x2="596.8" y2="312.3" stroke="#333" stroke-width="0.9"/>
<line x1="593.6" y1="378.8" x2="596.8" y2="378.8" stroke="#333" stroke-width="0.9"/>
<line x1="602.4" y1="385.5" x2="602.4" y2="388.5" stroke="#333" stroke-width="0.9"/>
<line x1="666.4" y1="385.5" x2="666.4" y2="388.5" stroke="#333" stroke-width="0.9"/>
<line x1="730.3" y1="385.5" x2="730.3" y2="388.5" stroke="#333" stroke-width="0.9"/>
<text x="587.70" y="250.10" text-anchor="end">0.1</text>
<text x="587.70" y="316.90" text-anchor="end">0.0</text>
<text x="587.70" y="383.40" text-anchor="end" textLength="23.00" lengthAdjust="spacingAndGlyphs">−0.1</text>
<text x="602.40" y="405.10" text-anchor="middle">−0.1</text>
<text x="666.40" y="405.10" text-anchor="middle">0.0</text>
<text x="731.20" y="405.10" text-anchor="middle">0.1</text>
<text x="552.60" y="336.20" textLength="45.40" lengthAdjust="spacingAndGlyphs" transform="rotate(-90 552.60 336.20)">k<tspan class="sub" dy="4.6">y</tspan><tspan dy="-4.6"> [2π/a]</tspan></text>
<text x="643.60" y="426.90" textLength="45.40" lengthAdjust="spacingAndGlyphs">k<tspan class="sub" dy="4.6">x</tspan><tspan dy="-4.6"> [2π/a]</tspan></text>
<ellipse cx="666.4" cy="312.3" rx="58.6" ry="60.9" fill="none" stroke="#f2481d" stroke-width="1.2"/>
<rect x="745.4" y="239.4" width="7.6" height="146.1" fill="url(#hot)" stroke="#d4d4d4" stroke-width="0.6"/>
<text x="761.80" y="245.20">0.5</text>
<text x="761.80" y="390.90">0.0</text>
</g>
</svg></body></html>
